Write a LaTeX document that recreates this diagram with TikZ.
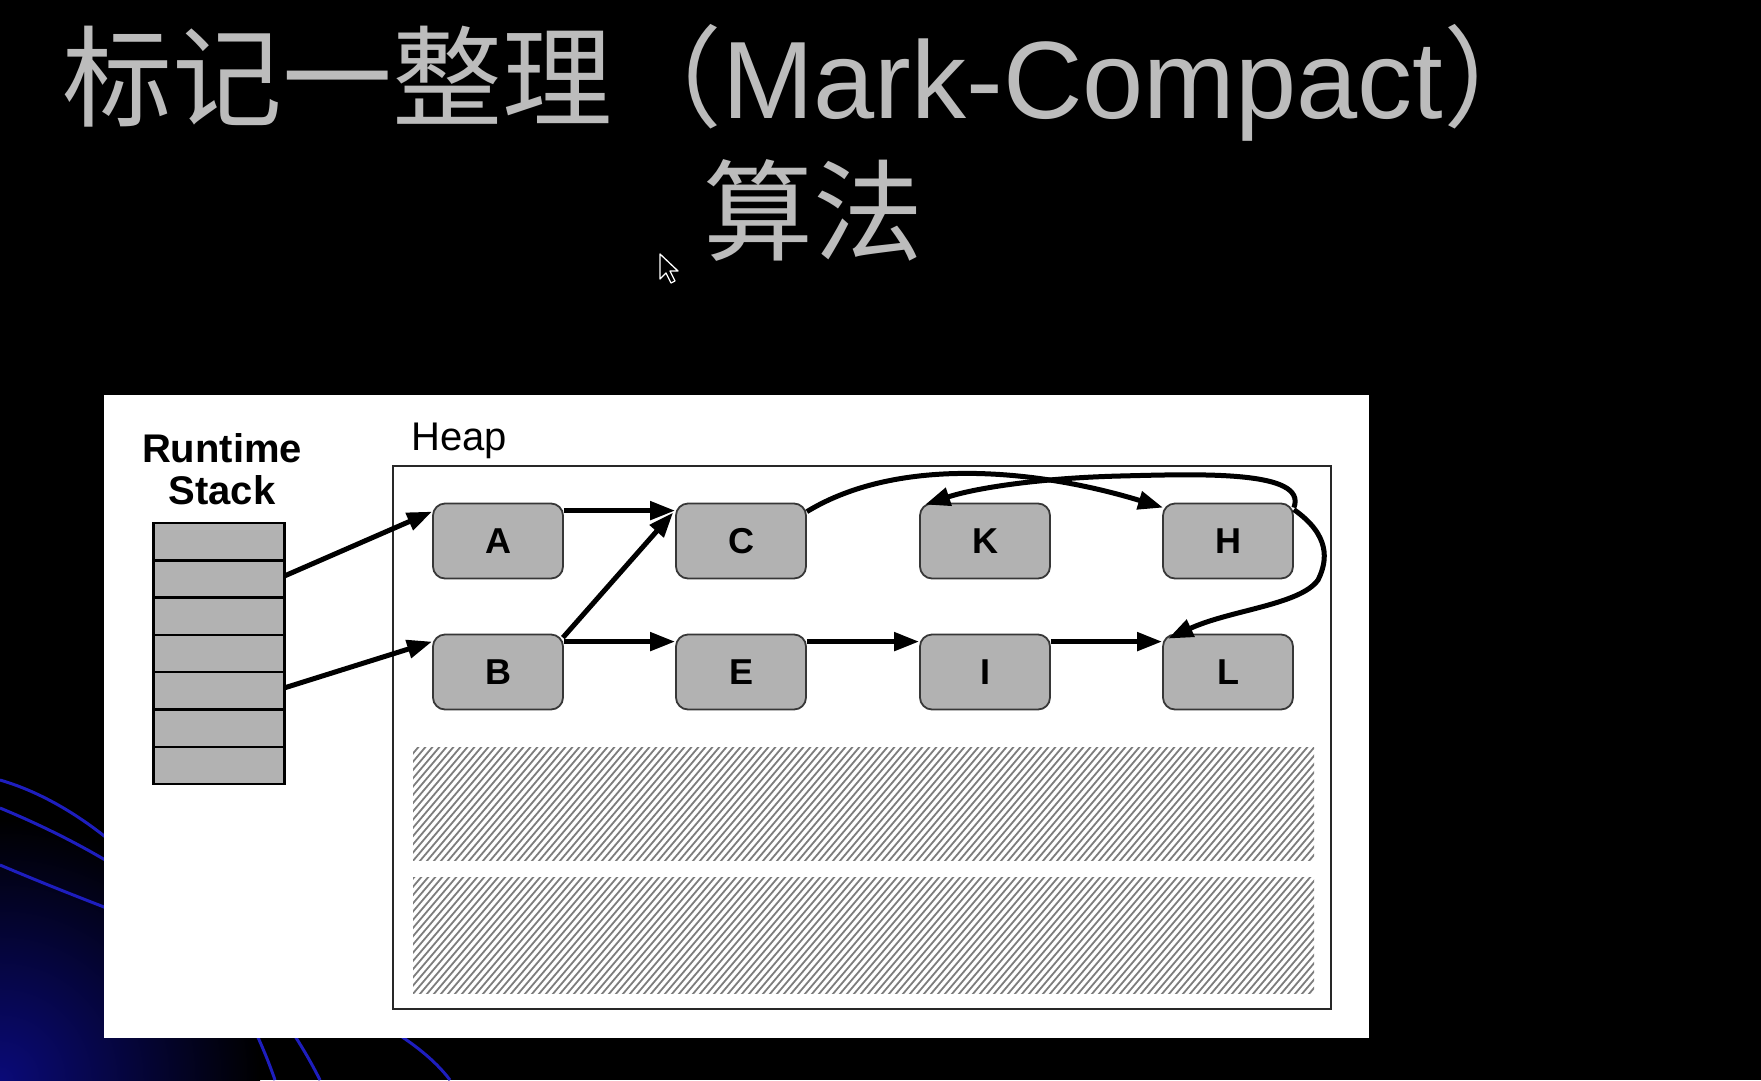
\documentclass[tikz,border=0pt]{standalone}
\usepackage{fontspec}
\setmainfont{Liberation Sans}
\newfontfamily\cjk{Noto Sans CJK SC}
\usetikzlibrary{arrows.meta}
\definecolor{titlegray}{RGB}{188,188,188}
\definecolor{boxgray}{RGB}{178,178,178}
\definecolor{boxedge}{RGB}{55,55,55}
\definecolor{bgblue}{RGB}{30,30,190}
\definecolor{hatchgray}{RGB}{125,125,125}
\tikzset{
  objbox/.style={draw=boxedge, line width=1.8pt, fill=boxgray, rounded corners=12pt,
    minimum width=130pt, minimum height=75pt, inner sep=0pt,
    font=\bfseries\fontsize{36}{40}\selectfont},
  cell/.style={draw=black, line width=2.5pt, fill=boxgray, minimum width=131pt,
    minimum height=37.3pt, inner sep=0pt, outer sep=0pt},
  arr/.style={line width=5pt, -{Triangle[length=25pt,width=18pt]}},
  bgline/.style={draw=bgblue, line width=3pt},
  lbl/.style={inner sep=0pt, anchor=base}
}
\begin{document}
\begin{tikzpicture}[x=1pt,y=-1pt]
\useasboundingbox (0,0) rectangle (1761,1080);
\fill[black] (0,0) rectangle (1761,1080);
% background decoration
\begin{scope}
\clip (0,0) rectangle (1761,1080);
\shade[inner color={rgb,255:red,10;green,10;blue,120}, outer color=black] (0,1080) circle (260);
\draw[bgline] (0,780) .. controls (120,815) and (230,950) .. (275,1080);
\draw[bgline] (0,808) .. controls (150,870) and (260,960) .. (320,1080);
\draw[bgline] (0,865) .. controls (200,950) and (390,1000) .. (450,1080);
\end{scope}
% title
\node[anchor=base west, inner sep=0pt, text=titlegray] (title) at (62,118)
  {\fontsize{110}{120}\selectfont{\cjk 标记一整理（}Mark-Compact{\cjk ）}};
\node[anchor=base west, inner sep=0pt, text=titlegray] (title2) at (703,252)
  {\fontsize{110}{120}\selectfont\cjk 算法};
% mouse cursor
\filldraw[draw=white, fill=black, line width=1.3pt, line join=round]
  (660,254) -- (660,279) -- (666,273) -- (671,283) -- (675,281) -- (670,271) -- (678,271) -- cycle;
% white panel
\fill[white] (104,395) rectangle (1369,1038);
% labels
\node[lbl, font=\bfseries\fontsize{40}{44}\selectfont] (rt) at (222,462) {Runtime};
\node[lbl, font=\bfseries\fontsize{40}{44}\selectfont] (st) at (222,504) {Stack};
\node[lbl, anchor=base west, font=\fontsize{40}{44}\selectfont] (heaplbl) at (411,450) {Heap};
% stack cells
\foreach \i in {1,...,7} {
  \node[cell] (s\i) at (219, {523+37.3*(\i-0.5)}) {};
}
% heap box
\draw[line width=2.5pt, draw={rgb,255:red,40;green,40;blue,40}] (393,466) rectangle (1331,1009);
% hatched regions
\begin{scope}
\clip (413,747) rectangle (1314,860);
\foreach \x in {300,307,...,1320} {
  \draw[hatchgray, line width=1.8pt] (\x,862) -- ++(100,-118);
}
\end{scope}
\begin{scope}
\clip (413,877) rectangle (1314,993);
\foreach \x in {300,307,...,1320} {
  \draw[hatchgray, line width=1.8pt] (\x,995) -- ++(102,-120);
}
\end{scope}
% objects
\node[objbox] (A) at (498,541) {A};
\node[objbox] (C) at (741,541) {C};
\node[objbox] (K) at (985,541) {K};
\node[objbox] (H) at (1228,541) {H};
\node[objbox] (B) at (498,672) {B};
\node[objbox] (E) at (741,672) {E};
\node[objbox] (I) at (985,672) {I};
\node[objbox] (L) at (1228,672) {L};
% references
\draw[arr] ([yshift=3pt]s2.east) -- ([yshift=-9pt]A.north west);
\draw[arr] ([yshift=3pt]s5.east) -- ([yshift=-8pt]B.north west);
\draw[arr] ([yshift=-8pt]A.north east) -- ([yshift=-8pt]C.north west);
\draw[arr] ([xshift=-1pt,yshift=-4pt]B.north east) -- ([xshift=-2pt,yshift=-10pt]C.north west);
\draw[arr] ([yshift=-8pt]B.north east) -- ([yshift=-8pt]E.north west);
\draw[arr] ([yshift=-8pt]E.north east) -- ([yshift=-8pt]I.north west);
\draw[arr] ([yshift=-8pt]I.north east) -- ([yshift=-8pt]L.north west);
\draw[arr] ([yshift=-9pt]C.north east) .. controls (900,455) and (1040,470) .. ([xshift=1pt,yshift=-5pt]H.north west);
\draw[arr] ([yshift=-5pt]H.north east) .. controls (1308,470) and (1200,474) .. (1120,476)
  .. controls (1040,478) and (975,488) .. ([xshift=6pt,yshift=-2pt]K.north west);
\draw[arr] ([yshift=-7pt]H.north east) .. controls (1330,535) and (1328,560) .. (1318,580)
  .. controls (1300,605) and (1230,610) .. ([xshift=6pt,yshift=-5pt]L.north west);
\end{tikzpicture}
\end{document}
